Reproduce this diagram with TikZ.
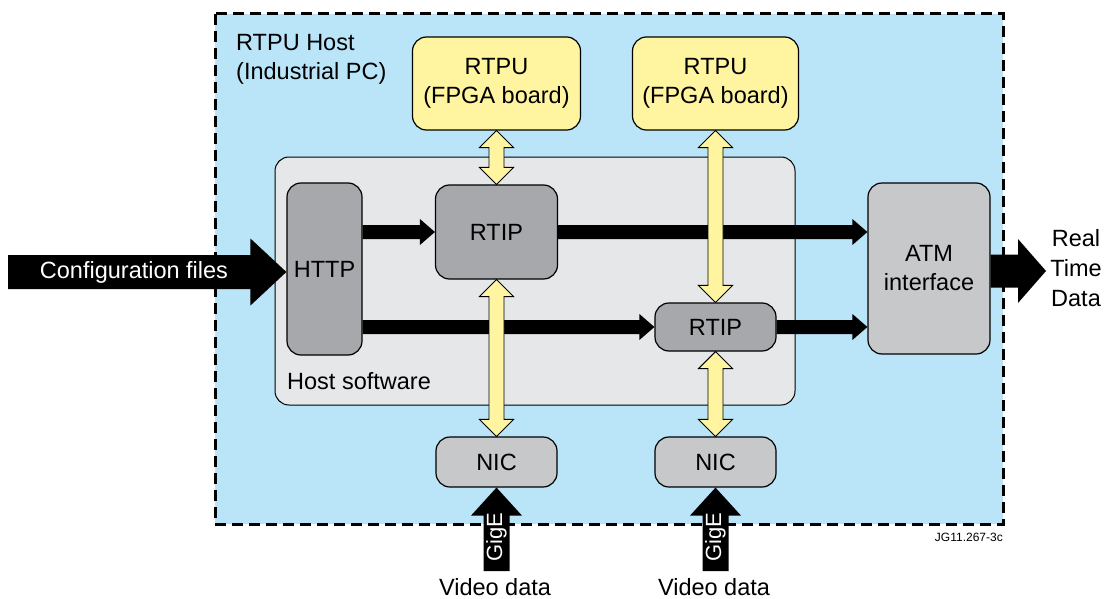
\documentclass[tikz,border=0pt]{standalone}
\usepackage{fontspec}
\setmainfont{Liberation Sans}
\usetikzlibrary{calc}
\definecolor{hostblue}{RGB}{186,228,248}
\definecolor{fpgayellow}{RGB}{255,245,160}
\definecolor{swgrey}{RGB}{230,231,233}
\definecolor{darkbox}{RGB}{167,168,172}
\definecolor{lightbox}{RGB}{199,200,202}
% horizontal block arrow: from, to, shaft half, head half, head length
\newcommand\hblock[5]{%
  \fill ($(#1)+(0,-#3)$) -- ($(#2)+(-#5,-#3)$) -- ($(#2)+(-#5,-#4)$) -- (#2)
    -- ($(#2)+(-#5,#4)$) -- ($(#2)+(-#5,#3)$) -- ($(#1)+(0,#3)$) -- cycle;}
% upward block arrow: from (bottom), to (top)
\newcommand\ublock[5]{%
  \fill ($(#1)+(-#3,0)$) -- ($(#2)+(-#3,#5)$) -- ($(#2)+(-#4,#5)$) -- (#2)
    -- ($(#2)+(#4,#5)$) -- ($(#2)+(#3,#5)$) -- ($(#1)+(#3,0)$) -- cycle;}
% vertical double arrow (yellow): top, bottom
\newcommand\vdarrow[2]{%
  \draw[yarrow] (#1) -- ++(-17,17) -- ++(9.5,0) -- ($(#2)+(-7.5,-17)$) -- ++(-9.5,0)
    -- (#2) -- ++(17,-17) -- ++(-9.5,0) -- ($(#1)+(7.5,17)$) -- ++(9.5,0) -- cycle;}
\begin{document}
\begin{tikzpicture}[x=1pt,y=-1pt,
  every node/.style={font=\fontsize{23.5}{29}\selectfont, inner sep=0pt},
  boxbase/.style={draw=black, line width=1.2pt, rounded corners=14pt, align=center},
  fpga/.style={boxbase, fill=fpgayellow},
  darkproc/.style={boxbase, fill=darkbox},
  lightproc/.style={boxbase, fill=lightbox},
  yarrow/.style={draw=black, fill=fpgayellow, line width=0.9pt, line join=miter},
]
\useasboundingbox (0,0) rectangle (1110,599);
% outer host box
\path[fill=hostblue] (215,14) rectangle (1003,524);
\draw[line width=3pt, dash pattern=on 11pt off 6pt] (215,14) rectangle (1003,524);
\node[anchor=west, align=left] (hostlbl) at (236,59) {RTPU Host\\(Industrial PC)};
% host software
\node[boxbase, fill=swgrey, line width=1pt, minimum width=520, minimum height=248] (hostsw) at (535,281) {};
\node[anchor=west] (swlbl) at (287,381) {Host software};
% boxes
\node[fpga, minimum width=168, minimum height=93] (y1) at (496.5,83.5) {RTPU\\(FPGA board)};
\node[fpga, minimum width=166, minimum height=93] (y2) at (715.5,83.5) {RTPU\\(FPGA board)};
\node[darkproc, minimum width=75, minimum height=172] (http) at (324.5,269) {HTTP};
\node[darkproc, minimum width=122, minimum height=94] (r1) at (496.5,232) {RTIP};
\node[darkproc, minimum width=121, minimum height=48] (r2) at (715.5,327) {RTIP};
\node[lightproc, minimum width=122, minimum height=171] (atm) at (929,268.5) {ATM\\interface};
\node[lightproc, minimum width=121, minimum height=50] (nic1) at (496.5,462) {NIC};
\node[lightproc, minimum width=121, minimum height=50] (nic2) at (715.5,462) {NIC};
% black internal arrows
\coordinate (a1) at (http.east |- r1.west);
\coordinate (a2) at (http.east |- r2.west);
\coordinate (b1) at (r1.east -| atm.west);
\coordinate (b2) at (r2.east -| atm.west);
\hblock{a1}{r1.west}{7}{13}{15}
\hblock{a2}{r2.west}{7}{13}{15}
\hblock{r1.east}{b1}{7}{13}{15}
\hblock{r2.east}{b2}{7}{13}{15}
% yellow double arrows
\vdarrow{y1.south}{r1.north}
\vdarrow{r1.south}{nic1.north}
\vdarrow{y2.south}{r2.north}
\vdarrow{r2.south}{nic2.north}
% configuration input
\coordinate (cfgin) at (8,272);
\coordinate (cfgend) at (http.west |- cfgin);
\hblock{cfgin}{cfgend}{17}{33.5}{36}
\node[text=white] (cfglbl) at (134,272) {Configuration files};
% output
\coordinate (rtout) at (1046,271);
\coordinate (atmout) at (atm.east |- rtout);
\hblock{atmout}{rtout}{16.5}{32}{28}
\node[align=center, font=\fontsize{23.5}{30}\selectfont] (rtd) at (1076,268.5) {Real\\Time\\Data};
% GigE inputs
\coordinate (g1) at (nic1.south |- 0,571);
\coordinate (g2) at (nic2.south |- 0,571);
\ublock{g1}{nic1.south}{13}{25.5}{28}
\ublock{g2}{nic2.south}{13}{25.5}{28}
\node[text=white, rotate=90, font=\fontsize{22}{26}\selectfont] (gig1) at (496.5,537) {GigE};
\node[text=white, rotate=90, font=\fontsize{22}{26}\selectfont] (gig2) at (715.5,537) {GigE};
\node (vd1) at (495,587) {Video data};
\node (vd2) at (714,587) {Video data};
% reference code
\node[anchor=east, font=\fontsize{12}{14}\selectfont] (jg) at (1003,537) {JG11.267-3c};
\end{tikzpicture}
\end{document}
